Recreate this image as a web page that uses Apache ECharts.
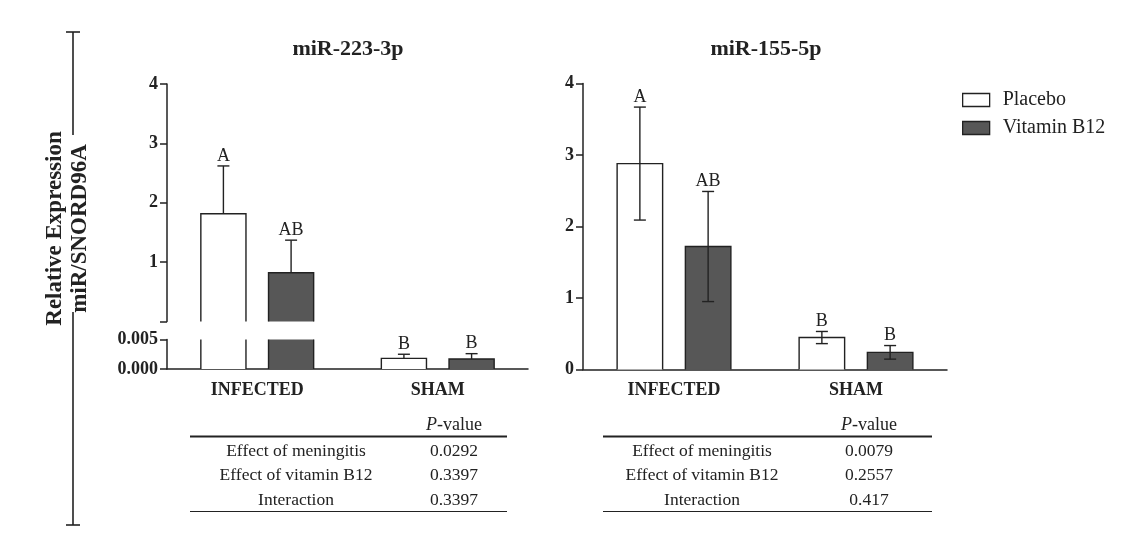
<!DOCTYPE html>
<html>
<head>
<meta charset="utf-8">
<script src="https://cdn.jsdelivr.net/npm/echarts@6/dist/echarts.min.js"></script>
<style>
  html, body { margin: 0; padding: 0; background: #fff; }
  #chart { width: 1140px; height: 549px; }
</style>
</head>
<body>
<div id="chart"></div>
<script>
// --- data ---
const categories = ['INFECTED', 'SHAM'];
const groupNames = ['Placebo', 'Vitamin B12'];

// miR-223-3p (broken y axis: 0-0.005 below, 0-4 above)
const mir223Placebo = [1.815, 0.0018];
const mir223PlaceboSem = [0.805, 0.0007];
const mir223Vitamin = [0.82, 0.0017];
const mir223VitaminSem = [0.55, 0.0009];
const mir223PlaceboLetters = ['A', 'B'];
const mir223VitaminLetters = ['AB', 'B'];

// miR-155-5p
const mir155Placebo = [2.88, 0.447];
const mir155PlaceboSem = [0.79, 0.085];
const mir155Vitamin = [1.72, 0.24];
const mir155VitaminSem = [0.77, 0.095];
const mir155PlaceboLetters = ['A', 'B'];
const mir155VitaminLetters = ['AB', 'B'];

// p-value tables
const tableRows = ['Effect of meningitis', 'Effect of vitamin B12', 'Interaction'];
const mir223PValues = ['0.0292', '0.3397', '0.3397'];
const mir155PValues = ['0.0079', '0.2557', '0.417'];

const lowMax = 0.005;
const upperMax = 4;

const FONT = '"Liberation Serif", "Times New Roman", serif';
const INK = '#222';
const fills = ['#ffffff', '#575757'];

var chart = echarts.init(document.getElementById('chart'));

// bar + error bar + letter, drawn through the axis scales
function barRenderer(values, sems, letters, groupIdx, panelMax, show, twoSided) {
    return function (params, api) {
        var i = params.dataIndex;
        var v = values[i];
        if (!show(v)) return null;
        var band = api.size([1, 0])[0];
        var w = band * 0.25;
        var origin = api.coord([i, 0]);
        var cx = origin[0] + (groupIdx === 0 ? -1 : 1) * w * 0.75;
        var x0 = cx - w / 2, x1 = cx + w / 2;
        var base = origin[1];
        var clipped = v > panelMax;
        var top = api.coord([i, Math.min(v, panelMax)])[1];
        var lineStyle = {stroke: INK, lineWidth: 1.4, fill: null};
        var children = [{
            type: 'rect',
            shape: {x: x0, y: top, width: w, height: base - top},
            style: {fill: fills[groupIdx]}
        }];
        if (clipped) {
            // broken bar: only the sides in this panel
            children.push({type: 'line', shape: {x1: x0, y1: top, x2: x0, y2: base}, style: lineStyle});
            children.push({type: 'line', shape: {x1: x1, y1: top, x2: x1, y2: base}, style: lineStyle});
            return {type: 'group', children: children};
        }
        children.push({
            type: 'polyline',
            shape: {points: [[x0, base], [x0, top], [x1, top], [x1, base]]},
            style: lineStyle
        });
        var hi = api.coord([i, v + sems[i]])[1];
        var lo = twoSided ? api.coord([i, v - sems[i]])[1] : top;
        var cap = 6;
        children.push({type: 'line', shape: {x1: cx, y1: lo, x2: cx, y2: hi}, style: lineStyle});
        children.push({type: 'line', shape: {x1: cx - cap, y1: hi, x2: cx + cap, y2: hi}, style: lineStyle});
        if (twoSided) {
            children.push({type: 'line', shape: {x1: cx - cap, y1: lo, x2: cx + cap, y2: lo}, style: lineStyle});
        }
        children.push({
            type: 'text',
            style: {
                text: letters[i], x: cx, y: hi - 1,
                align: 'center', verticalAlign: 'bottom',
                font: '18px ' + FONT, fill: INK
            }
        });
        return {type: 'group', children: children};
    };
}

function seriesData(values) {
    return values.map(function (v, i) { return [i, v]; });
}

function customSeries(name, values, sems, letters, groupIdx, xi, panelMax, show, twoSided) {
    return {
        type: 'custom',
        name: name,
        xAxisIndex: xi,
        yAxisIndex: xi,
        data: seriesData(values),
        itemStyle: {color: fills[groupIdx], borderColor: INK},
        renderItem: barRenderer(values, sems, letters, groupIdx, panelMax, show, twoSided)
    };
}

var axisLine = {show: true, lineStyle: {color: INK, width: 1.5}};
var tickLabel = {color: INK, fontFamily: FONT, fontWeight: 'bold', fontSize: 18, margin: 9};

function yAxis(grid, max, interval, formatter) {
    return {
        type: 'value', gridIndex: grid, min: 0, max: max, interval: interval,
        axisLine: axisLine,
        axisTick: {show: true, length: 7, lineStyle: {color: INK, width: 1.5}},
        splitLine: {show: false},
        axisLabel: Object.assign({formatter: formatter}, tickLabel)
    };
}

function xAxis(grid, visible) {
    return {
        type: 'category', gridIndex: grid, data: categories,
        axisLine: visible ? axisLine : {show: false},
        axisTick: {show: false},
        axisLabel: visible ? {color: INK, fontFamily: FONT, fontWeight: 'bold', fontSize: 18, margin: 12} : {show: false}
    };
}

function tableGraphics(x0, x1, labelX, valueX, pValues) {
    var items = [
        {type: 'text', x: valueX, y: 425, style: {
            text: '{i|P}-value', align: 'center', verticalAlign: 'middle',
            font: '18px ' + FONT, fill: INK,
            rich: {i: {fontStyle: 'italic', fontFamily: FONT, fontSize: 18, fill: INK}}
        }},
        {type: 'line', shape: {x1: x0, y1: 436.5, x2: x1, y2: 436.5}, style: {stroke: INK, lineWidth: 2}},
        {type: 'line', shape: {x1: x0, y1: 511.5, x2: x1, y2: 511.5}, style: {stroke: INK, lineWidth: 1.2}}
    ];
    tableRows.forEach(function (row, r) {
        var y = 451.5 + r * 24.3;
        items.push({type: 'text', x: labelX, y: y, style: {
            text: row, align: 'center', verticalAlign: 'middle', font: '17.5px ' + FONT, fill: INK}});
        items.push({type: 'text', x: valueX, y: y, style: {
            text: pValues[r], align: 'center', verticalAlign: 'middle', font: '17.5px ' + FONT, fill: INK}});
    });
    return items;
}

var bracket = {stroke: INK, lineWidth: 1.6};
var graphics = [
    {type: 'text', x: 348, y: 49, style: {text: 'miR-223-3p', align: 'center', verticalAlign: 'middle',
        font: 'bold 22px ' + FONT, fill: INK}},
    {type: 'text', x: 766, y: 49, style: {text: 'miR-155-5p', align: 'center', verticalAlign: 'middle',
        font: 'bold 22px ' + FONT, fill: INK}},
    {type: 'text', x: 68, y: 228.5, rotation: Math.PI / 2, style: {
        text: 'Relative Expression\nmiR/SNORD96A', align: 'center', verticalAlign: 'middle',
        font: 'bold 23px ' + FONT, lineHeight: 25, fill: INK}},
    {type: 'line', shape: {x1: 73, y1: 32, x2: 73, y2: 135}, style: bracket},
    {type: 'line', shape: {x1: 73, y1: 312, x2: 73, y2: 525}, style: bracket},
    {type: 'line', shape: {x1: 66, y1: 32, x2: 80, y2: 32}, style: bracket},
    {type: 'line', shape: {x1: 66, y1: 525, x2: 80, y2: 525}, style: bracket}
].concat(tableGraphics(190, 507, 296, 454, mir223PValues))
 .concat(tableGraphics(603, 932, 702, 869, mir155PValues));

var upperShow = function (v) { return v > lowMax; };
var always = function () { return true; };

chart.setOption({
    animation: false,
    grid: [
        {left: 167, top: 84, width: 361, height: 237.5},
        {left: 167, top: 339.5, width: 361, height: 29.5},
        {left: 583, top: 83.5, width: 364, height: 286}
    ],
    xAxis: [xAxis(0, false), xAxis(1, true), xAxis(2, true)],
    yAxis: [
        yAxis(0, upperMax, 1, function (v) { return v === 0 ? '' : v; }),
        yAxis(1, lowMax, lowMax, function (v) { return v.toFixed(3); }),
        yAxis(2, upperMax, 1, function (v) { return v; })
    ],
    legend: {
        orient: 'vertical', left: 957, top: 85,
        itemWidth: 27, itemHeight: 13, itemGap: 8,
        textStyle: {color: INK, fontFamily: FONT, fontSize: 20, padding: [0, 0, 0, 8]},
        data: groupNames.map(function (n, g) {
            return {name: n, icon: 'rect', itemStyle: {color: fills[g], borderColor: INK, borderWidth: 1.3}};
        })
    },
    graphic: graphics,
    series: [
        customSeries(groupNames[0], mir223Placebo, mir223PlaceboSem, mir223PlaceboLetters, 0, 0, upperMax, upperShow, false),
        customSeries(groupNames[1], mir223Vitamin, mir223VitaminSem, mir223VitaminLetters, 1, 0, upperMax, upperShow, false),
        customSeries(groupNames[0], mir223Placebo, mir223PlaceboSem, mir223PlaceboLetters, 0, 1, lowMax, always, false),
        customSeries(groupNames[1], mir223Vitamin, mir223VitaminSem, mir223VitaminLetters, 1, 1, lowMax, always, false),
        customSeries(groupNames[0], mir155Placebo, mir155PlaceboSem, mir155PlaceboLetters, 0, 2, upperMax, always, true),
        customSeries(groupNames[1], mir155Vitamin, mir155VitaminSem, mir155VitaminLetters, 1, 2, upperMax, always, true)
    ]
});
</script>
</body>
</html>
